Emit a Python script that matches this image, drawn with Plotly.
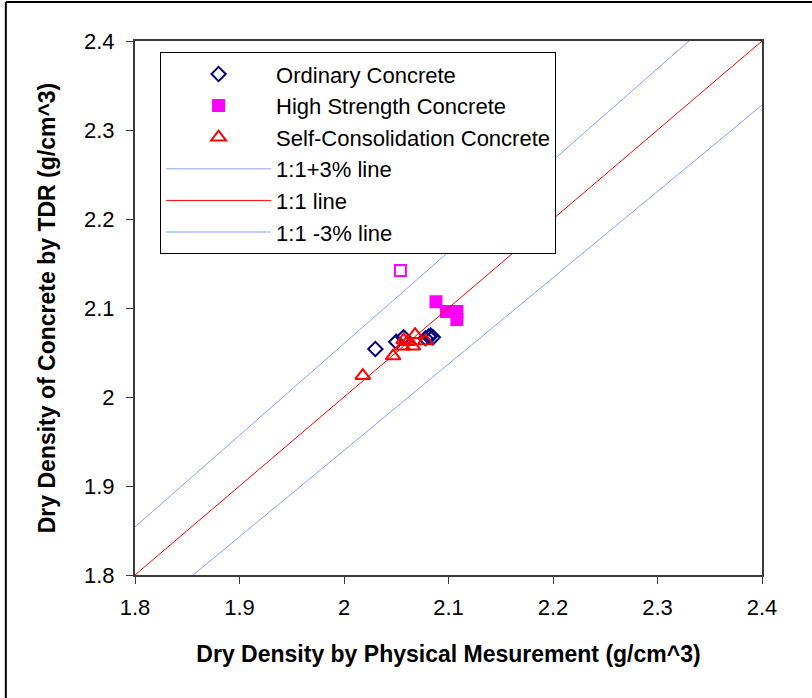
import numpy as np
import plotly.graph_objects as go

# ---- data ----
oc_x = [2.030, 2.050, 2.057, 2.078, 2.081, 2.083, 2.085]
oc_y = [2.054, 2.062, 2.067, 2.066, 2.068, 2.069, 2.067]

hs_x = [2.088, 2.098, 2.108, 2.108, 2.054]
hs_y = [2.107, 2.096, 2.096, 2.087, 2.142]
hs_symbols = ["square", "square", "square", "square", "square-open"]

sc_x = [2.018, 2.047, 2.056, 2.057, 2.061, 2.066, 2.068, 2.078]
sc_y = [2.024, 2.046, 2.057, 2.064, 2.062, 2.057, 2.070, 2.063]

ref_x = [1.7, 2.5]
ref_factors = {"1:1+3% line": 1.03, "1:1 line": 1.00, "1:1 -3% line": 0.97}
ref_colors = {"1:1+3% line": "#86A3F4", "1:1 line": "#FF0000", "1:1 -3% line": "#86A3F4"}

x_ticks = [1.8, 1.9, 2.0, 2.1, 2.2, 2.3, 2.4]
x_ticklabels = ["1.8", "1.9", "2", "2.1", "2.2", "2.3", "2.4"]
y_ticks = [1.8, 1.9, 2.0, 2.1, 2.2, 2.3, 2.4]
y_ticklabels = ["1.8", "1.9", "2", "2.1", "2.2", "2.3", "2.4"]

FONT = "Liberation Sans, Arial, sans-serif"

fig = go.Figure()

fig.add_trace(go.Scatter(
    x=oc_x, y=oc_y, mode="markers", name="Ordinary Concrete",
    marker=dict(symbol="diamond-open", size=11, color="#000080", line=dict(width=2, color="#000080")),
))
fig.add_trace(go.Scatter(
    x=hs_x, y=hs_y, mode="markers", name="High Strength Concrete",
    marker=dict(symbol=hs_symbols, size=11, color="#FF00FF", line=dict(width=2, color="#FF00FF")),
))
fig.add_trace(go.Scatter(
    x=sc_x, y=sc_y, mode="markers", name="Self-Consolidation Concrete",
    marker=dict(symbol="triangle-up-open", size=13, color="#FF0000", line=dict(width=2, color="#FF0000")),
))
for name, f in ref_factors.items():
    fig.add_trace(go.Scatter(
        x=ref_x, y=[v * f for v in ref_x], mode="lines", name=name,
        line=dict(color=ref_colors[name], width=1),
    ))

axis_common = dict(
    showgrid=False, zeroline=False, showline=True, mirror=True,
    linecolor="#3A3A3A", linewidth=2, ticks="outside", ticklen=7,
    tickcolor="#3A3A3A", tickwidth=1,
    tickfont=dict(family=FONT, size=22, color="black"),
)

fig.update_layout(
    width=812, height=698,
    margin=dict(l=135, r=50, t=41, b=123),
    paper_bgcolor="white", plot_bgcolor="white",
    font=dict(family=FONT, color="black"),
    xaxis=dict(range=[1.8, 2.4], tickvals=x_ticks, ticktext=x_ticklabels,
               ticklabelstandoff=5,
               title=dict(text="<b>Dry Density by Physical Mesurement (g/cm^3)</b>",
                          font=dict(family=FONT, size=23), standoff=26),
               **axis_common),
    yaxis=dict(range=[1.8, 2.4], tickvals=y_ticks, ticktext=y_ticklabels,
               ticklabelstandoff=7,
               title=dict(text="<b>Dry Density of Concrete by TDR (g/cm^3)</b>",
                          font=dict(family=FONT, size=23), standoff=22),
               **axis_common),
    legend=dict(x=0.04, y=0.979, xanchor="left", yanchor="top",
                bgcolor="white", bordercolor="black", borderwidth=1,
                font=dict(family=FONT, size=22, color="black"),
                itemwidth=105),
    showlegend=True,
    shapes=[
        dict(type="line", xref="paper", yref="paper", x0=-0.206, x1=1.1, y0=1.073, y1=1.073,
             line=dict(color="black", width=2)),
        dict(type="line", xref="paper", yref="paper", x0=-0.206, x1=-0.206, y0=1.073, y1=-0.3,
             line=dict(color="black", width=2)),
    ],
)

fig.write_html("out.html")
